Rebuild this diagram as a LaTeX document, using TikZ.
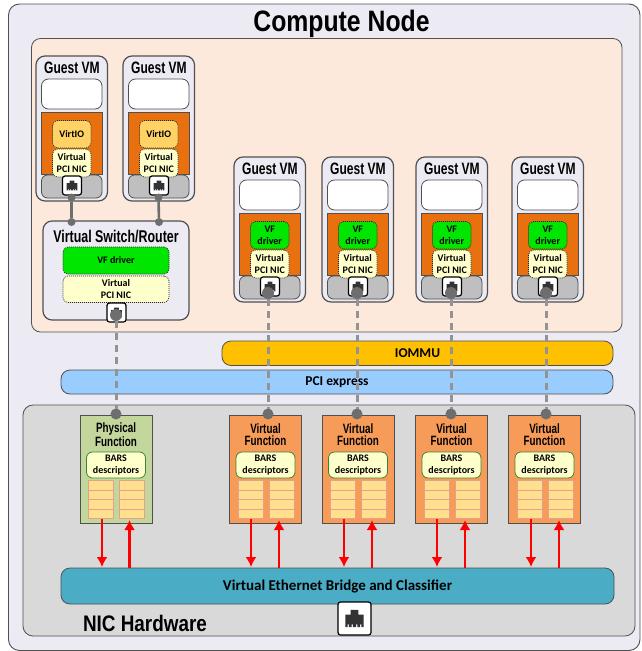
\documentclass[tikz,border=0pt]{standalone}
\usepackage{fontspec}
\setmainfont{Carlito}
\newfontfamily\headfont{Liberation Sans}
\usetikzlibrary{arrows.meta}
\definecolor{outerc}{HTML}{ECEAF2}
\definecolor{peach}{HTML}{FCE9DC}
\definecolor{orangec}{HTML}{E8700F}
\definecolor{greyc}{HTML}{BFBFBF}
\definecolor{virtioc}{HTML}{FFD265}
\definecolor{nicc}{HTML}{FFFFCC}
\definecolor{greenc}{HTML}{00E600}
\definecolor{lined}{HTML}{505050}
\definecolor{dotc}{HTML}{6E6E6E}
\definecolor{iommuc}{HTML}{FFC000}
\definecolor{pcic}{HTML}{99CCFF}
\definecolor{nichw}{HTML}{D9D9D9}
\definecolor{pfc}{HTML}{C3D69B}
\definecolor{vfc}{HTML}{F79C58}
\definecolor{cellc}{HTML}{FFE08F}
\definecolor{cellb}{HTML}{E6A08C}
\definecolor{bridgec}{HTML}{4BACC6}
\newcommand{\hd}[2]{\scalebox{.84}[1]{\headfont\fontsize{#1}{#1}\selectfont\bfseries #2}}
\newcommand{\hdn}[2]{\scalebox{.73}[1]{\headfont\fontsize{#1}{#1}\selectfont\bfseries #2}}
\tikzset{
  x=1pt,y=-1pt,
  bx/.style={inner sep=0pt,outer sep=0pt,align=center},
  panel/.style={bx,draw=lined,line width=1pt},
  vmbox/.style={panel,fill=outerc,rounded corners=9pt,line width=1.2pt},
  blank/.style={bx,draw=lined,line width=.8pt,fill=white,rounded corners=7pt},
  orangebox/.style={bx,draw=lined,line width=.7pt,fill=orangec},
  portbar/.style={bx,draw=lined,line width=.8pt,fill=greyc,rounded corners=6pt},
  dotted box/.style={bx,draw=black!85,line width=.7pt,dash pattern=on 1pt off 1pt,rounded corners=5pt},
  barbox/.style={bx,draw=lined,line width=.8pt,rounded corners=9pt},
  fnbox/.style={bx,draw=lined,line width=1pt},
  barsbox/.style={bx,draw=lined!70!green,line width=.8pt,fill=nicc,rounded corners=6pt},
  cell/.style={bx,draw=cellb,line width=.8pt,fill=cellc},
  inner text/.style={font=\fontsize{10}{12.5}\selectfont\bfseries},
  portdot/.style={circle,fill=dotc,inner sep=0pt,outer sep=0pt,minimum size=8pt},
  solidlink/.style={draw=dotc,line width=2.6pt},
  dashlink/.style={draw=gray!85,line width=3pt,dash pattern=on 7pt off 5pt},
  redarrow/.style={draw=red,line width=2.4pt,-{Latex[length=10pt,width=11pt]}},
}
% name, style, x1, y1, x2, y2, text
\newcommand{\bxn}[7]{\node[#2,minimum width={((#5)-(#3))*1pt},minimum height={((#6)-(#4))*1pt}] (#1) at ({((#3)+(#5))/2},{((#4)+(#6))/2}) {#7};}
% name, left x, top y, size
\newcommand{\jack}[4]{%
  \bxn{#1}{bx,draw=black,fill=white,line width=1.2pt,rounded corners=2.5pt}{#2}{#3}{#2+#4}{#3+#4}{}
  \begin{scope}[shift={(#2+#4/2,#3+#4/2)},x=#4*0.01pt,y=-#4*0.01pt]
    \fill[black!80] (-28,-12) -- (-12,-12) -- (-12,-26) -- (12,-26) -- (12,-12) -- (28,-12) -- (28,26) -- (21,26) -- (21,18) -- (17,18) -- (17,26) -- (9,26) -- (9,18) -- (5,18) -- (5,26) -- (-5,26) -- (-5,18) -- (-9,18) -- (-9,26) -- (-17,26) -- (-17,18) -- (-21,18) -- (-21,26) -- (-28,26) -- cycle;
  \end{scope}}
% guest: name, left x, top y, driver fill, driver text
\newcommand{\guest}[5]{%
  \bxn{#1}{vmbox}{#2}{#3}{#2+71.5}{#3+145}{}
  \node[bx] (#1t) at (#2+36,#3+12) {\hdn{16.5}{Guest VM}};
  \bxn{#1w}{blank}{#2+5.5}{#3+23}{#2+66}{#3+53}{}
  \bxn{#1o}{orangebox}{#2+5.5}{#3+56}{#2+66}{#3+118}{}
  \bxn{#1g}{portbar}{#2+5.5}{#3+119}{#2+66}{#3+142}{}
  \bxn{#1d}{dotted box,fill=#4,inner text}{#2+16.5}{#3+64.5}{#2+55}{#3+92}{#5}
  \bxn{#1n}{dotted box,fill=nicc,inner text}{#2+16.5}{#3+93}{#2+55}{#3+121}{Virtual\\PCI NIC}
  \jack{#1p}{#2+26.5}{#3+120}{19}}
% function: name, left x, fill, title line 1
\newcommand{\func}[4]{%
  \bxn{#1}{fnbox,fill=#3}{#2}{415}{#2+72}{523}{}
  \node[bx] (#1t) at (#2+36,434.5) {\hdn{13.5}{#4}\\[.5pt]\hdn{13.5}{Function}};
  \bxn{#1b}{barsbox,inner text}{#2+6.5}{452}{#2+65.5}{478}{BARS\\descriptors}
  \foreach \colm/\colx in {a/8.5,b/39.5}{
    \foreach \rowi in {0,1,2,3}{
      \bxn{#1\colm\rowi}{cell}{#2+\colx}{480.5+\rowi*9.5}{#2+\colx+25}{490+\rowi*9.5}{}
    }
  }
}
\begin{document}
\begin{tikzpicture}
\useasboundingbox (0,0) rectangle (642,651);
\fill[white] (0,0) rectangle (642,651);
\bxn{outer}{panel,fill=outerc,rounded corners=11pt,line width=.9pt}{8.5}{4}{640}{650.5}{}
\node[bx] (title) at (341.5,23.5) {\hd{29.5}{Compute Node}};
\bxn{vmarea}{panel,fill=peach,rounded corners=9pt,line width=.8pt}{31.5}{38.5}{622}{332}{}

\guest{ga}{36}{56}{virtioc}{VirtIO}
\guest{gb}{123}{56}{virtioc}{VirtIO}

\bxn{vsw}{vmbox}{43}{221}{189}{320}{}
\node[bx] (vswt) at (116,237) {\hdn{17}{Virtual Switch/Router}};
\bxn{vswd}{dotted box,fill=greenc,inner text}{63}{247}{169}{274}{VF driver}
\bxn{vswn}{dotted box,fill=nicc,inner text}{63}{276}{169}{302.5}{Virtual\\PCI NIC}
\jack{vswp}{107}{303}{19}

\guest{gc}{234}{157}{greenc}{VF\\driver}
\guest{gd}{322}{157}{greenc}{VF\\driver}
\guest{ge}{416}{157}{greenc}{VF\\driver}
\guest{gf}{512}{157}{greenc}{VF\\driver}

\bxn{iommu}{barbox,fill=iommuc,font=\fontsize{13.5}{13}\selectfont\bfseries}{222}{341}{613}{365.5}{IOMMU}
\bxn{pci}{barbox,fill=pcic,font=\fontsize{13.5}{13}\selectfont\bfseries}{61}{370}{613}{394}{PCI express}
\bxn{nic}{panel,fill=nichw,rounded corners=10pt,line width=.8pt}{23}{405}{635}{636}{}

\func{pf}{80}{pfc}{Physical}
\func{va}{229.5}{vfc}{Virtual}
\func{vb}{322}{vfc}{Virtual}
\func{vc}{415.5}{vfc}{Virtual}
\func{vd}{508.5}{vfc}{Virtual}

\bxn{bridge}{barbox,fill=bridgec,font=\fontsize{15}{15}\selectfont\bfseries}{61}{568}{614}{604}{Virtual Ethernet Bridge and Classifier}
\node[bx,anchor=west] (nichwt) at (83,623.5) {\hd{22.5}{NIC Hardware}};
\jack{hwp}{338}{602}{33}

% port dots
\node[portdot] (gaq) at (71.5,197.5) {};
\node[portdot] (gbq) at (158.5,197.5) {};
\node[portdot] (vsa) at (71.5,222) {};
\node[portdot] (vsb) at (159,222) {};
\node[portdot,minimum size=12pt] (vsq) at (116,315) {};
\node[portdot,minimum size=12pt] (gcq) at (268,293) {};
\node[portdot,minimum size=12pt] (gdq) at (357,293) {};
\node[portdot,minimum size=12pt] (geq) at (451,293) {};
\node[portdot,minimum size=12pt] (gfq) at (546,293) {};
\node[portdot,minimum size=11pt] (pfq) at (116,414) {};
\node[portdot,minimum size=11pt] (vaq) at (268,414) {};
\node[portdot,minimum size=11pt] (vbq) at (357,414) {};
\node[portdot,minimum size=11pt] (vcq) at (451,414) {};
\node[portdot,minimum size=11pt] (vdq) at (546,414) {};

\draw[solidlink] (gaq) -- (vsa);
\draw[solidlink] (gbq) -- (vsb);
\draw[dashlink] (vsq.south) -- (pfq);
\draw[dashlink] (gcq.south) -- (vaq);
\draw[dashlink] (gdq.south) -- (vbq);
\draw[dashlink] (geq.south) -- (vcq);
\draw[dashlink] (gfq.south) -- (vdq);

% red arrows
\foreach \fn/\dn/\up in {pf/102/129.5,va/251/279,vb/344/372,vc/437/465,vd/531/559}{
  \coordinate (\fn u) at (\dn,518.5);
  \coordinate (\fn v) at (\dn,567);
  \coordinate (\fn w) at (\up,567.5);
  \coordinate (\fn z) at (\up,520);
  \draw[redarrow] (\fn u) -- (\fn v);
  \draw[redarrow] (\fn w) -- (\fn z);
}
\end{tikzpicture}
\end{document}
